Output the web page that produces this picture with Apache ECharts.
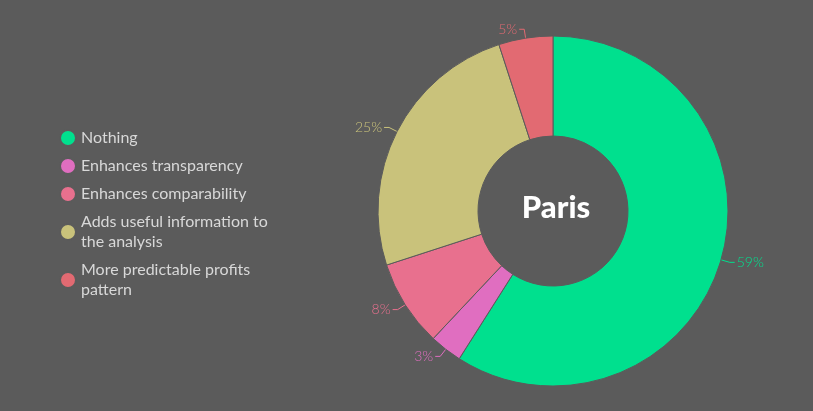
<!DOCTYPE html>
<html>
<head>
<meta charset="utf-8">
<script src="https://cdn.jsdelivr.net/npm/echarts@6/dist/echarts.min.js"></script>
<style>
  html, body { margin: 0; padding: 0; background: #5b5b5b; }
  #main { width: 813px; height: 411px; }
</style>
</head>
<body>
<div id="main"></div>
<script>
// answer categories and their share of responses (%)
const categories = ['Nothing', 'Enhances transparency', 'Enhances comparability', 'Adds useful information to the analysis', 'More predictable profits pattern'];
const shares = [59, 3, 8, 25, 5];
const colors = ['#00e08e', '#e06ec0', '#e8708e', '#c9c27b', '#e26a72'];

const chart = echarts.init(document.getElementById('main'));

chart.setOption({
  backgroundColor: '#5b5b5b',
  color: colors,
  title: {
    text: 'Paris',
    left: 551,
    top: 187,
    textAlign: 'center',
    textStyle: { color: '#fff', fontFamily: 'Lato', fontWeight: 900, fontSize: 31 }
  },
  legend: {
    orient: 'vertical',
    left: 54,
    top: 123,
    icon: 'circle',
    itemWidth: 16,
    itemHeight: 16,
    itemGap: 8,
    textStyle: {
      color: '#d8d8d8',
      fontFamily: 'Lato',
      fontSize: 16,
      lineHeight: 20,
      width: 205,
      overflow: 'break'
    }
  },
  series: [{
    type: 'pie',
    center: [553, 211],
    radius: [75, 175],
    startAngle: 90,
    clockwise: true,
    avoidLabelOverlap: false,
    itemStyle: { borderColor: '#5b5b5b', borderWidth: 1 },
    label: {
      formatter: '{c}%',
      fontFamily: 'Lato',
      fontWeight: 300,
      fontSize: 14,
      color: 'inherit',
      distanceToLabelLine: 2
    },
    labelLine: { length: 9, length2: 5, lineStyle: { width: 1 } },
    data: categories.map((name, i) => ({ name: name, value: shares[i] }))
  }]
});
</script>
</body>
</html>
